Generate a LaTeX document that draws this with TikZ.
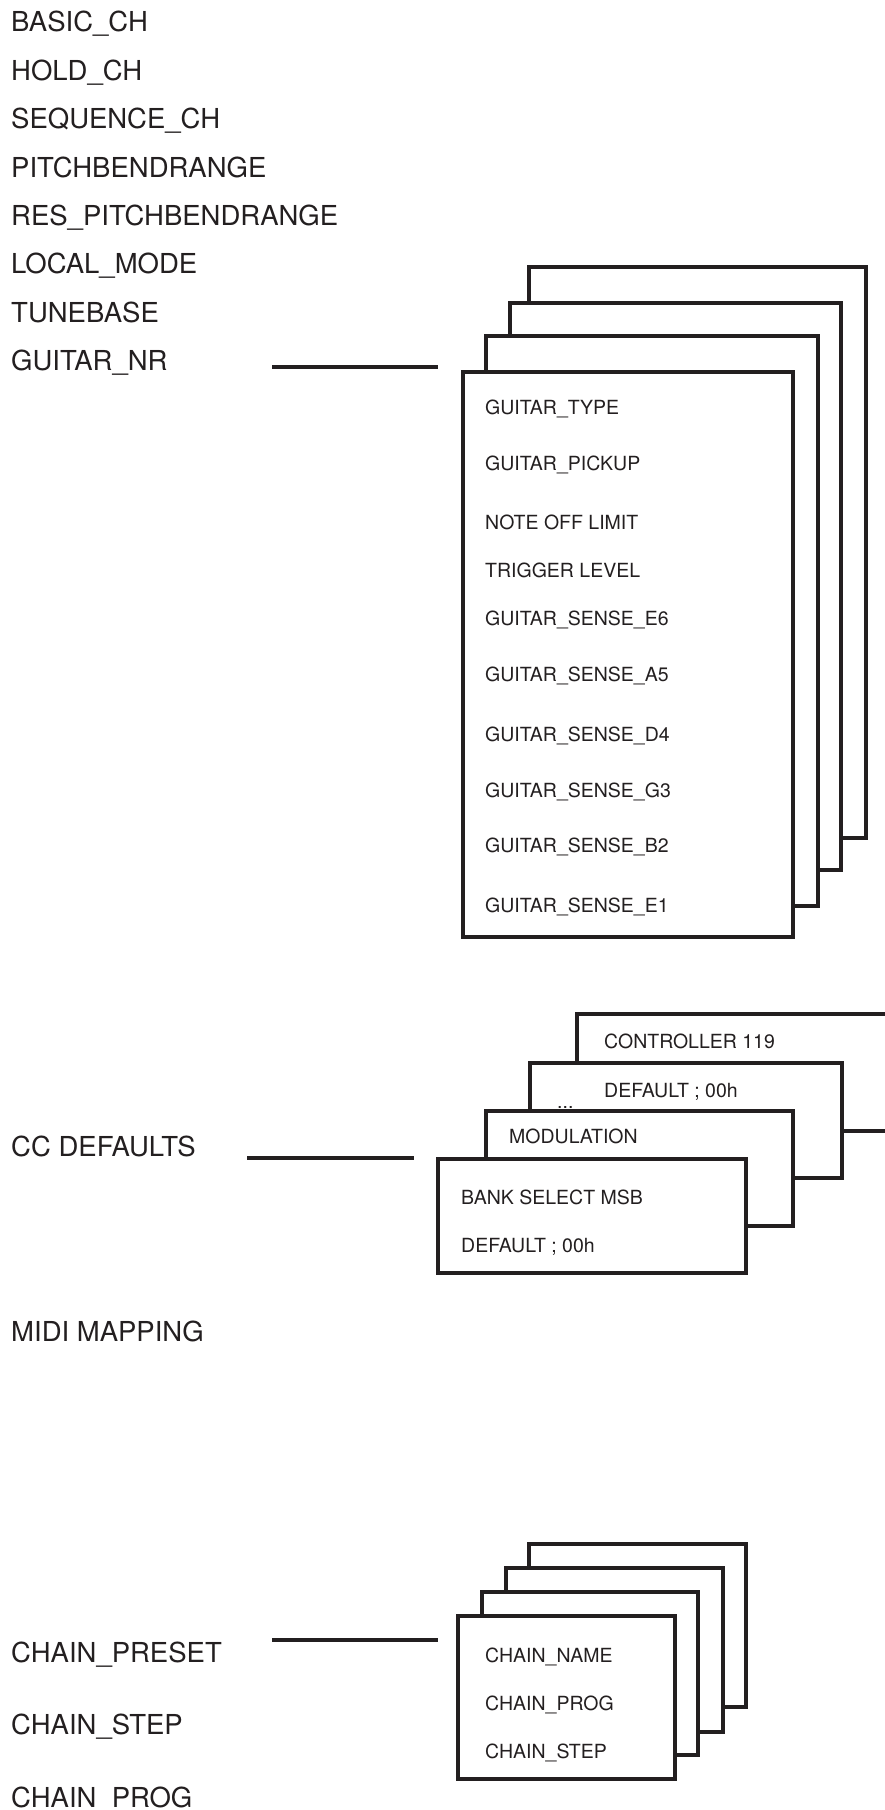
\documentclass[tikz,border=0pt]{standalone}
\usepackage{fontspec}
\setmainfont{TeX Gyre Heros}
\usepackage{xcolor}
\usepackage{tikz}
\usetikzlibrary{
    positioning
}
\definecolor{ink}{HTML}{231F20}

\begin{document}
\begin{tikzpicture}[
    x=1pt, y=-1pt,
    node distance=28.3pt,
    param/.style={anchor=west, inner sep=0pt, text height=19.7pt, text depth=0pt, text=ink, font=\fontsize{27.5}{32}\selectfont},
    field/.style={anchor=west, inner sep=0pt, text height=14pt, text depth=0pt, text=ink, font=\fontsize{19.5}{23}\selectfont},
    sheet/.style={rectangle, draw=ink, fill=white, line width=3.3pt, anchor=north west, inner sep=0pt, outer sep=0pt},
    lead/.style={draw=ink, line width=3.5pt}
]
\useasboundingbox (0,0) rectangle (884,1810);

\node[param] (basic) at (11,22) {BASIC\_CH};
\node[param, below=of basic.south west, anchor=north west] (hold) {HOLD\_CH};
\node[param, below=of hold.south west, anchor=north west] (sequence) {SEQUENCE\_CH};
\node[param, below=of sequence.south west, anchor=north west] (pbrange) {PITCHBENDRANGE};
\node[param, below=of pbrange.south west, anchor=north west] (respbrange) {RES\_PITCHBENDRANGE};
\node[param, below=of respbrange.south west, anchor=north west] (localmode) {LOCAL\_MODE};
\node[param, below=of localmode.south west, anchor=north west] (tunebase) {TUNEBASE};
\node[param, below=of tunebase.south west, anchor=north west] (guitarnr) {GUITAR\_NR};
\node[param] (ccdefaults) at (11,1147) {CC DEFAULTS};
\node[param] (midimap) at (11,1332) {MIDI MAPPING};
\node[param] (chainpreset) at (11,1653) {CHAIN\_PRESET};
\node[param, below=52pt of chainpreset.south west, anchor=north west] (chainstep) {CHAIN\_STEP};
\node[param, below=52pt of chainstep.south west, anchor=north west] (chainprog) {CHAIN\_PROG};

\node[sheet, minimum width=337pt, minimum height=571pt] (gtr4) at (529,267) {};
\node[sheet, minimum width=331pt, minimum height=567pt] (gtr3) at (510,303) {};
\node[sheet, minimum width=332pt, minimum height=570pt] (gtr2) at (486,336) {};
\node[sheet, minimum width=330pt, minimum height=565pt] (gtr1) at (463,372) {};

\node[field] (gtype) at (485,407) {GUITAR\_TYPE};
\node[field] (gpickup) at (485,463) {GUITAR\_PICKUP};
\node[field] (noteoff) at (485,522) {NOTE OFF LIMIT};
\node[field] (trigger) at (485,570) {TRIGGER LEVEL};
\node[field] (senseE6) at (485,618) {GUITAR\_SENSE\_E6};
\node[field] (senseA5) at (485,674) {GUITAR\_SENSE\_A5};
\node[field] (senseD4) at (485,734) {GUITAR\_SENSE\_D4};
\node[field] (senseG3) at (485,790) {GUITAR\_SENSE\_G3};
\node[field] (senseB2) at (485,845) {GUITAR\_SENSE\_B2};
\node[field] (senseE1) at (485,905) {GUITAR\_SENSE\_E1};

\node[sheet, minimum width=330pt, minimum height=117pt] (cc4) at (577,1014) {};
\node[sheet, minimum width=312pt, minimum height=115pt] (cc3) at (530,1063) {};
\node[sheet, minimum width=307pt, minimum height=115pt] (cc2) at (486,1111) {};
\node[sheet, minimum width=308pt, minimum height=114pt] (cc1) at (438,1159) {};

\node[field] (ctrl119) at (604,1041) {CONTROLLER 119};
\node[field] (default119) at (604,1090) {DEFAULT ; 00h};
\node[field, anchor=base west] (ellipsis) at (557,1108) {...};
\node[field] (modulation) at (509,1136) {MODULATION};
\node[field] (bankmsb) at (461,1197) {BANK SELECT MSB};
\node[field] (defaultmsb) at (461,1245) {DEFAULT ; 00h};

\node[sheet, minimum width=217pt, minimum height=163pt] (chain4) at (529,1544) {};
\node[sheet, minimum width=217pt, minimum height=164pt] (chain3) at (506,1568) {};
\node[sheet, minimum width=216pt, minimum height=163pt] (chain2) at (482,1592) {};
\node[sheet, minimum width=217pt, minimum height=163pt] (chain1) at (458,1616) {};

\node[field] (chainname) at (485,1655) {CHAIN\_NAME};
\node[field] (cprog) at (485,1703) {CHAIN\_PROG};
\node[field] (cstep) at (485,1751) {CHAIN\_STEP};

\coordinate (gtrfrom) at (272,367);
\coordinate (gtrto) at (438,367);
\coordinate (ccfrom) at (247,1158);
\coordinate (ccto) at (414,1158);
\coordinate (chainfrom) at (272,1640);
\coordinate (chainto) at (438,1640);

\draw[lead] (gtrfrom) -- (gtrto);
\draw[lead] (ccfrom) -- (ccto);
\draw[lead] (chainfrom) -- (chainto);
\end{tikzpicture}
\end{document}
